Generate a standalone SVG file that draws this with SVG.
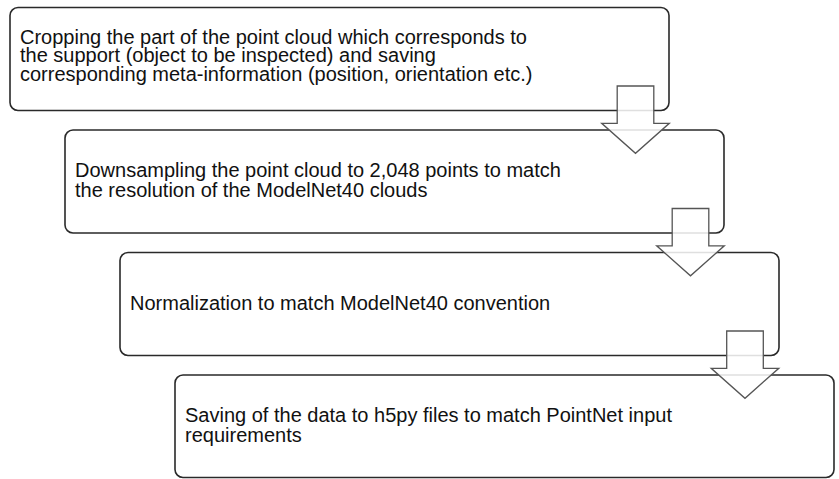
<svg xmlns="http://www.w3.org/2000/svg" width="839" height="479" viewBox="0 0 839 479">
<defs>
<style>
.box{fill:#fff;stroke:#2a2a2a;stroke-width:1.6}
.txt{font-family:"Liberation Sans",Arial,sans-serif;font-size:20px;fill:#111}
.arr{fill:#fff;fill-opacity:0.85;stroke:#555;stroke-width:1.3;stroke-linejoin:miter}
</style>
<path id="arrowShape" d="M-18.3,0 H18.3 V37.3 H33.8 L0,67.3 L-33.8,37.3 H-18.3 Z"/>
</defs>
<rect width="839" height="479" fill="#fff"/>
<g id="node1">
<rect class="box" x="10" y="7.5" width="659" height="103" rx="8"/>
<text class="txt" x="20" y="43.5">Cropping the part of the point cloud which corresponds to</text>
<text class="txt" x="20" y="62">the support (object to be inspected) and saving</text>
<text class="txt" x="20" y="80.5">corresponding meta-information (position, orientation etc.)</text>
</g>
<g id="node2">
<rect class="box" x="65" y="130" width="659" height="103" rx="8"/>
<text class="txt" x="75" y="177">Downsampling the point cloud to 2,048 points to match</text>
<text class="txt" x="75" y="196.5">the resolution of the ModelNet40 clouds</text>
</g>
<g id="node3">
<rect class="box" x="120" y="252.5" width="659" height="103" rx="8"/>
<text class="txt" x="130" y="309.5">Normalization to match ModelNet40 convention</text>
</g>
<g id="node4">
<rect class="box" x="175" y="375" width="659" height="102.5" rx="8"/>
<text class="txt" x="185" y="422.3">Saving of the data to h5py files to match PointNet input</text>
<text class="txt" x="185" y="441.7">requirements</text>
</g>
<g id="connectors">
<use href="#arrowShape" class="arr" transform="translate(635.5,86)"/>
<use href="#arrowShape" class="arr" transform="translate(690.5,208.5)"/>
<use href="#arrowShape" class="arr" transform="translate(745,331)"/>
</g>
</svg>
